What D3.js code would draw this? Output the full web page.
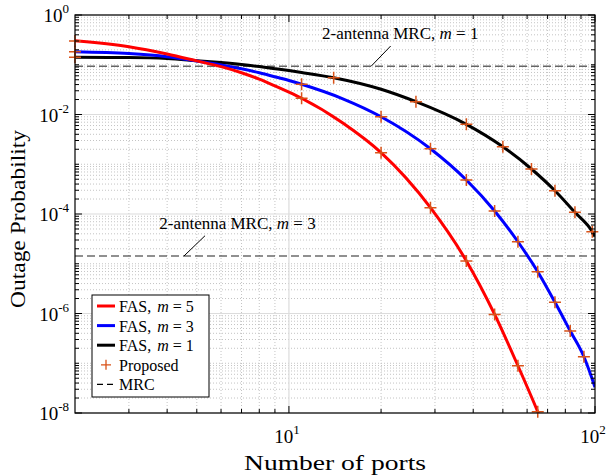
<!DOCTYPE html>
<html>
<head>
<meta charset="utf-8">
<script src="https://cdn.jsdelivr.net/npm/d3@7"></script>
<style>
  body { margin: 0; background: #fff; }
  svg text { font-family: "Liberation Serif", "Times New Roman", serif; fill: #000; }
</style>
</head>
<body>
<div id="chart"></div>
<script>
// FAS curves: number of ports -> outage probability
const portsM5 = [2, 3, 4, 5, 6, 7, 8, 9, 10, 11, 15, 20, 29, 38, 47, 56, 65, 70];
const outageM5 = [0.304, 0.2306, 0.1645, 0.1195, 0.0915, 0.0691, 0.0512, 0.0376, 0.0281, 0.0212,
  6.75e-3, 1.71e-3, 1.34e-4, 1.14e-5, 9.6e-7, 8.9e-8, 1.06e-8, 3.45e-9];

const portsM3 = [2, 3, 4, 5, 6, 7, 8, 9, 10, 11, 15, 20, 29, 38, 47, 56, 65, 74, 83, 92, 100];
const outageM3 = [0.1829, 0.1675, 0.1445, 0.1189, 0.0993, 0.0829, 0.0689, 0.0573, 0.0482, 0.0405,
  0.0207, 9.03e-3, 2.05e-3, 4.82e-4, 1.15e-4, 2.77e-5, 6.92e-6, 1.68e-6, 4.45e-7, 1.35e-7, 3.3e-8];

const portsM1 = [2, 3, 4, 5, 6, 7, 8, 9, 10, 11, 14, 20, 26, 38, 50, 62, 74, 86, 98, 100];
const outageM1 = [0.1412, 0.1399, 0.1336, 0.1206, 0.1106, 0.1012, 0.0920, 0.0835, 0.0763, 0.0699,
  0.0549, 0.0322, 0.0181, 6.35e-3, 2.25e-3, 8.03e-4, 2.94e-4, 1.08e-4, 4.41e-5, 3.53e-5];

// "Proposed" markers
const propPortsM5 = [2, 11, 20, 29, 38, 47, 56, 65];
const propM5 = [0.30, 0.0212, 1.71e-3, 1.34e-4, 1.14e-5, 9.6e-7, 8.9e-8, 1.06e-8];
const propPortsM3 = [2, 11, 20, 29, 38, 47, 56, 65, 74, 83, 92];
const propM3 = [0.183, 0.0405, 9.03e-3, 2.05e-3, 4.82e-4, 1.15e-4, 2.77e-5, 6.92e-6, 1.68e-6, 4.45e-7, 1.35e-7];
const propPortsM1 = [2, 14, 26, 38, 50, 62, 74, 86, 98];
const propM1 = [0.141, 0.0549, 0.0181, 6.35e-3, 2.25e-3, 8.03e-4, 2.94e-4, 1.08e-4, 4.41e-5];

// 2-antenna MRC levels
const mrcM1 = 0.0931;
const mrcM3 = 1.43e-5;

const xTickVals = [10, 100];
const xTickExp = ["1", "2"];
const yTickVals = [1, 1e-2, 1e-4, 1e-6, 1e-8];
const yTickExp = ["0", "-2", "-4", "-6", "-8"];

const legendNames = ["FAS,", "FAS,", "FAS,", "Proposed", "MRC"];
const legendM = ["5", "3", "1", null, null];

const width = 609, height = 476;
const margin = {left: 75, top: 15, right: 14, bottom: 63};
const plotW = width - margin.left - margin.right;
const plotH = height - margin.top - margin.bottom;
const markerColor = "#D95319";

const svg = d3.select("#chart").append("svg")
  .attr("width", width)
  .attr("height", height);

svg.append("rect").attr("width", width).attr("height", height).attr("fill", "#fff");

const x = d3.scaleLog().domain([2, 100]).range([margin.left, margin.left + plotW]);
const y = d3.scaleLog().domain([1e-8, 1]).range([margin.top + plotH, margin.top]);

svg.append("clipPath").attr("id", "plotclip")
  .append("rect")
  .attr("x", margin.left).attr("y", margin.top)
  .attr("width", plotW).attr("height", plotH);

// grid
const xMinor = [3, 4, 5, 6, 7, 8, 9, 20, 30, 40, 50, 60, 70, 80, 90];
const yAll = [];
for (let k = -8; k < 0; k++) for (let m = 1; m <= 9; m++) yAll.push(m * Math.pow(10, k));
const isMajorY = v => yTickVals.some(t => Math.abs(Math.log10(v) - Math.log10(t)) < 1e-6);
const yMinor = yAll.filter(v => !isMajorY(v));

const grid = svg.append("g");
grid.selectAll(".xminor").data(xMinor).enter().append("line")
  .attr("x1", d => x(d)).attr("x2", d => x(d))
  .attr("y1", margin.top).attr("y2", margin.top + plotH)
  .attr("stroke", "#c4c4c4").attr("stroke-width", 1).attr("stroke-dasharray", "1,2");
grid.selectAll(".yminor").data(yMinor).enter().append("line")
  .attr("y1", d => y(d)).attr("y2", d => y(d))
  .attr("x1", margin.left).attr("x2", margin.left + plotW)
  .attr("stroke", "#c4c4c4").attr("stroke-width", 1).attr("stroke-dasharray", "1,2");
grid.selectAll(".xmajor").data([10]).enter().append("line")
  .attr("x1", d => x(d)).attr("x2", d => x(d))
  .attr("y1", margin.top).attr("y2", margin.top + plotH)
  .attr("stroke", "#dcdcdc").attr("stroke-width", 1.2);
grid.selectAll(".ymajor").data(yTickVals).enter().append("line")
  .attr("y1", d => y(d)).attr("y2", d => y(d))
  .attr("x1", margin.left).attr("x2", margin.left + plotW)
  .attr("stroke", "#dcdcdc").attr("stroke-width", 1.2);

// MRC reference lines
const plot = svg.append("g").attr("clip-path", "url(#plotclip)");
plot.append("line")
  .attr("x1", x(2)).attr("x2", x(100))
  .attr("y1", y(mrcM1)).attr("y2", y(mrcM1))
  .attr("stroke", "#666").attr("stroke-width", 1.4).attr("stroke-dasharray", "8,4");
plot.append("line")
  .attr("x1", x(2)).attr("x2", x(100))
  .attr("y1", y(mrcM3)).attr("y2", y(mrcM3))
  .attr("stroke", "#222").attr("stroke-width", 1.2).attr("stroke-dasharray", "8,4");

// curves
const line = d3.line()
  .x(d => x(d[0]))
  .y(d => y(d[1]))
  .curve(d3.curveMonotoneX);

const series = [
  {ports: portsM1, vals: outageM1, color: "#000000"},
  {ports: portsM3, vals: outageM3, color: "#0000ff"},
  {ports: portsM5, vals: outageM5, color: "#ff0000"}
];
series.forEach(s => {
  plot.append("path")
    .attr("d", line(s.ports.map((p, i) => [p, s.vals[i]])))
    .attr("fill", "none")
    .attr("stroke", s.color)
    .attr("stroke-width", 3)
    .attr("stroke-linejoin", "round");
});

// proposed markers
const markers = [];
[[propPortsM5, propM5], [propPortsM3, propM3], [propPortsM1, propM1]].forEach(([ps, vs]) => {
  ps.forEach((p, i) => markers.push([p, vs[i]]));
});
const ms = 6;
svg.append("g").selectAll("path").data(markers).enter().append("path")
  .attr("d", d => `M${x(d[0]) - ms},${y(d[1])}H${x(d[0]) + ms}M${x(d[0])},${y(d[1]) - ms}V${y(d[1]) + ms}`)
  .attr("stroke", markerColor)
  .attr("stroke-width", 1.5)
  .attr("fill", "none");

// annotations
function annotate(label, mVal, textAt, lineFrom, lineTo) {
  svg.append("line")
    .attr("x1", x(lineFrom[0])).attr("y1", y(lineFrom[1]))
    .attr("x2", x(lineTo[0])).attr("y2", y(lineTo[1]))
    .attr("stroke", "#000").attr("stroke-width", 1);
  const t = svg.append("text")
    .attr("x", x(textAt[0])).attr("y", y(textAt[1]))
    .attr("text-anchor", "middle")
    .attr("dominant-baseline", "central")
    .attr("font-size", 17);
  t.append("tspan").text(label + " ");
  t.append("tspan").attr("font-style", "italic").text("m");
  t.append("tspan").text(" = " + mVal);
}
annotate("2-antenna MRC,", "1", [23.1, 0.43], [18.55, mrcM1], [21.5, 0.238]);
annotate("2-antenna MRC,", "3", [6.79, 6.7e-5], [4.54, mrcM3], [5.32, 3.66e-5]);

// axes box and ticks
const axes = svg.append("g");
axes.append("rect")
  .attr("x", margin.left).attr("y", margin.top)
  .attr("width", plotW).attr("height", plotH)
  .attr("fill", "none").attr("stroke", "#000").attr("stroke-width", 1.2);

const tickMajor = 7, tickMinor = 4;
const yTicksAll = yAll.concat([1]);
yTicksAll.forEach(v => {
  const len = isMajorY(v) ? tickMajor : tickMinor;
  axes.append("line").attr("x1", margin.left).attr("x2", margin.left + len)
    .attr("y1", y(v)).attr("y2", y(v)).attr("stroke", "#000").attr("stroke-width", 1);
  axes.append("line").attr("x1", margin.left + plotW).attr("x2", margin.left + plotW - len)
    .attr("y1", y(v)).attr("y2", y(v)).attr("stroke", "#000").attr("stroke-width", 1);
});
xMinor.concat(xTickVals).forEach(v => {
  const len = xTickVals.includes(v) ? tickMajor : tickMinor;
  axes.append("line").attr("x1", x(v)).attr("x2", x(v))
    .attr("y1", margin.top + plotH).attr("y2", margin.top + plotH - len)
    .attr("stroke", "#000").attr("stroke-width", 1);
  axes.append("line").attr("x1", x(v)).attr("x2", x(v))
    .attr("y1", margin.top).attr("y2", margin.top + len)
    .attr("stroke", "#000").attr("stroke-width", 1);
});

// tick labels
yTickVals.forEach((v, i) => {
  const t = axes.append("text")
    .attr("x", margin.left - 6).attr("y", y(v) + 7)
    .attr("text-anchor", "end").attr("font-size", 19);
  t.append("tspan").text("10");
  t.append("tspan").attr("dy", -9).attr("font-size", 13).text(yTickExp[i]);
});
xTickVals.forEach((v, i) => {
  const t = axes.append("text")
    .attr("x", x(v) - 2).attr("y", margin.top + plotH + 30)
    .attr("text-anchor", "middle").attr("font-size", 19);
  t.append("tspan").text("10");
  t.append("tspan").attr("dy", -9).attr("font-size", 13).text(xTickExp[i]);
});

// axis titles
svg.append("text")
  .attr("x", margin.left + plotW / 2).attr("y", 470)
  .attr("text-anchor", "middle").attr("font-size", 22)
  .attr("textLength", 182).attr("lengthAdjust", "spacingAndGlyphs")
  .text("Number of ports");
svg.append("text")
  .attr("transform", `translate(25,${219}) rotate(-90)`)
  .attr("text-anchor", "middle").attr("font-size", 22)
  .attr("textLength", 178).attr("lengthAdjust", "spacingAndGlyphs")
  .text("Outage Probability");

// legend
const lg = svg.append("g").attr("transform", "translate(92,295)");
lg.append("rect").attr("width", 117).attr("height", 102)
  .attr("fill", "#fff").attr("stroke", "#000").attr("stroke-width", 1);
const rowY = i => 11 + i * 19.6;
const legendStyles = [
  {type: "line", color: "#ff0000"},
  {type: "line", color: "#0000ff"},
  {type: "line", color: "#000000"},
  {type: "marker", color: markerColor},
  {type: "dash", color: "#000"}
];
legendNames.forEach((name, i) => {
  const st = legendStyles[i];
  const yy = rowY(i);
  if (st.type === "line") {
    lg.append("line").attr("x1", 5).attr("x2", 23).attr("y1", yy).attr("y2", yy)
      .attr("stroke", st.color).attr("stroke-width", 3);
  } else if (st.type === "marker") {
    lg.append("path").attr("d", `M${14 - 5},${yy}H${14 + 5}M14,${yy - 5}V${yy + 5}`)
      .attr("stroke", st.color).attr("stroke-width", 1.3);
  } else {
    lg.append("line").attr("x1", 5).attr("x2", 23).attr("y1", yy).attr("y2", yy)
      .attr("stroke", st.color).attr("stroke-width", 1.2).attr("stroke-dasharray", "6,4");
  }
  const t = lg.append("text").attr("x", 27).attr("y", yy)
    .attr("dominant-baseline", "central").attr("font-size", 16);
  t.append("tspan").text(name);
  if (legendM[i] !== null) {
    t.append("tspan").attr("dx", 6).attr("font-style", "italic").text("m");
    t.append("tspan").text(" = " + legendM[i]);
  }
});
</script>
</body>
</html>
